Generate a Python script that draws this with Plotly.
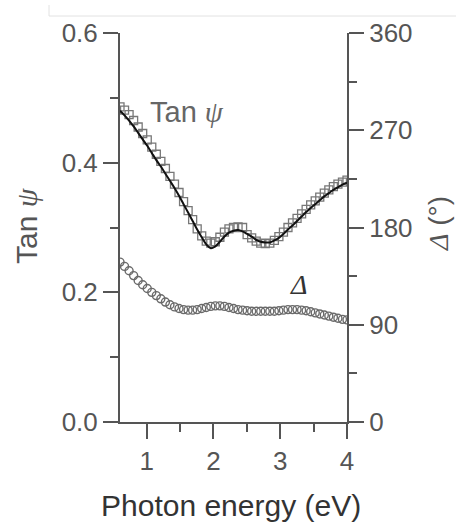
import plotly.graph_objects as go

# Photon energy grid (eV)
energy = [0.600, 0.668, 0.736, 0.804, 0.872, 0.940, 1.008, 1.076, 1.144, 1.212,
          1.280, 1.348, 1.416, 1.484, 1.552, 1.620, 1.688, 1.756, 1.824, 1.892,
          1.960, 2.028, 2.096, 2.164, 2.232, 2.300, 2.368, 2.436, 2.504, 2.572,
          2.640, 2.708, 2.776, 2.844, 2.912, 2.980, 3.048, 3.116, 3.184, 3.252,
          3.320, 3.388, 3.456, 3.524, 3.592, 3.660, 3.728, 3.796, 3.864, 3.932,
          4.000]

# Measured Tan(psi)
tanpsi_meas = [0.486, 0.481, 0.474, 0.465, 0.455, 0.445, 0.435, 0.424, 0.413, 0.402,
               0.391, 0.379, 0.367, 0.354, 0.340, 0.326, 0.312, 0.298, 0.287, 0.279,
               0.276, 0.278, 0.285, 0.293, 0.298, 0.300, 0.301, 0.300, 0.289, 0.284,
               0.279, 0.276, 0.275, 0.276, 0.280, 0.286, 0.293, 0.300, 0.307, 0.314,
               0.321, 0.328, 0.335, 0.341, 0.347, 0.353, 0.358, 0.363, 0.367, 0.370,
               0.373]

# Model fit of Tan(psi)
tanpsi_fit = [0.480, 0.473, 0.465, 0.456, 0.446, 0.436, 0.426, 0.415, 0.404, 0.394,
              0.383, 0.372, 0.361, 0.349, 0.336, 0.323, 0.310, 0.297, 0.285, 0.274,
              0.268, 0.271, 0.278, 0.286, 0.292, 0.295, 0.296, 0.294, 0.290, 0.286,
              0.281, 0.278, 0.277, 0.277, 0.280, 0.284, 0.290, 0.297, 0.303, 0.310,
              0.317, 0.324, 0.330, 0.336, 0.342, 0.348, 0.353, 0.358, 0.362, 0.366,
              0.369]

# Measured Delta (degrees)
delta_meas = [148, 144, 140, 135.5, 131, 127, 123.5, 120, 117, 114,
              111, 108.5, 106.5, 105, 104, 103.5, 103.5, 104, 105, 106,
              107, 107.5, 107.5, 107, 106, 105, 104, 103.5, 103, 102.5,
              102.5, 102.5, 102.5, 102.5, 102.5, 103, 103.5, 104, 104, 104,
              103.5, 103, 102, 101, 100, 99, 98, 97, 96, 95,
              94.5]

x_ticks = [1, 2, 3, 4]
x_minor = [1.5, 2.5, 3.5]
top_ticks = [1, 1.5, 2, 2.5, 3, 3.5]
left_ticks = [0, 0.2, 0.4, 0.6]
left_labels = ["0.0", "0.2", "0.4", "0.6"]
left_minor = [0.1, 0.3, 0.5]
right_ticks = [0, 90, 180, 270, 360]
right_minor = [45, 135, 225, 315]

AX = "#555555"
TXT = "#555555"
SANS = "Liberation Sans, Arial, sans-serif"
SERIF = "Liberation Serif, Times New Roman, serif"
PSI = "<span style='font-family:Liberation Serif'><i>ψ</i></span>"
DELTA = "<span style='font-family:Liberation Serif'><i>Δ</i></span>"

# Plot area in pixels (left, right, top, bottom)
W, H = 456, 522
PL, PR, PT, PB = 120, 347, 33, 422


def px(x, y):
    """Convert page pixel position to paper coordinates of the plot area."""
    return (x - PL) / (PR - PL), (PB - y) / (PB - PT)


fig = go.Figure()

fig.add_trace(go.Scatter(
    x=energy, y=tanpsi_meas, mode="markers",
    marker=dict(symbol="square-open", size=8, color="#777777", line=dict(width=1.3)),
    xaxis="x", yaxis="y", showlegend=False))

fig.add_trace(go.Scatter(
    x=energy, y=tanpsi_fit, mode="lines", line=dict(color="#111111", width=2, shape="spline"),
    xaxis="x", yaxis="y", showlegend=False))

fig.add_trace(go.Scatter(
    x=energy, y=delta_meas, mode="markers",
    marker=dict(symbol="circle-open", size=8, color="#6a6a6a", line=dict(width=1.4)),
    xaxis="x", yaxis="y2", showlegend=False))

axis_common = dict(showline=True, linecolor=AX, linewidth=2, tickcolor=AX, tickwidth=2,
                   showgrid=False, zeroline=False,
                   tickfont=dict(family=SANS, size=26, color=TXT))

fig.update_layout(
    width=W, height=H,
    margin=dict(l=PL, r=W - PR, t=PT, b=H - PB),
    paper_bgcolor="white", plot_bgcolor="white",
    xaxis=dict(range=[0.6, 4], tickmode="array", tickvals=x_ticks, ticks="outside", ticklen=15,
               minor=dict(tickmode="array", tickvals=x_minor, ticks="outside", ticklen=8,
                          tickwidth=2, tickcolor=AX),
               **axis_common),
    xaxis2=dict(range=[0.6, 4], overlaying="x", side="top", anchor="y", tickmode="array",
                tickvals=top_ticks, ticks="inside", ticklen=7, showticklabels=False,
                **axis_common),
    yaxis=dict(range=[0, 0.6], tickmode="array", tickvals=left_ticks, ticktext=left_labels,
               ticks="outside", ticklen=15,
               minor=dict(tickmode="array", tickvals=left_minor, ticks="outside", ticklen=8,
                          tickwidth=2, tickcolor=AX),
               **axis_common),
    yaxis2=dict(range=[0, 360], overlaying="y", side="right", anchor="x", tickmode="array",
                tickvals=right_ticks, ticks="outside", ticklen=15,
                minor=dict(tickmode="array", tickvals=right_minor, ticks="outside", ticklen=8,
                           tickwidth=2, tickcolor=AX),
                **axis_common),
)

# Series labels inside the plot
fig.add_annotation(x=1.02, y=0.478, xref="x", yref="y", xanchor="left", yanchor="middle",
                   text="Tan " + PSI, showarrow=False,
                   font=dict(family=SANS, size=29, color="#666666"))
fig.add_annotation(x=3.27, y=0.212, xref="x", yref="y", xanchor="center", yanchor="middle",
                   text="<i>Δ</i>", showarrow=False,
                   font=dict(family=SERIF, size=28, color="#333333"))

# Axis titles
tx, ty = px(26, 226)
fig.add_annotation(x=tx, y=ty, xref="paper", yref="paper",
                   xanchor="center", yanchor="middle", textangle=-90,
                   text="Tan " + PSI, showarrow=False,
                   font=dict(family=SANS, size=30, color=TXT))
tx, ty = px(438, 224)
fig.add_annotation(x=tx, y=ty, xref="paper", yref="paper",
                   xanchor="center", yanchor="middle", textangle=-90,
                   text=DELTA + " (°)", showarrow=False,
                   font=dict(family=SANS, size=28, color=TXT))
tx, ty = px(231, 505)
fig.add_annotation(x=tx, y=ty, xref="paper", yref="paper",
                   xanchor="center", yanchor="middle",
                   text="Photon energy (eV)", showarrow=False,
                   font=dict(family=SANS, size=30, color="#333333"))

# Thin frame edge along the top of the page
x0, y0 = px(49, 16)
x1, _ = px(W, 16)
_, y_top = px(49, 5)
fig.add_shape(type="line", xref="paper", yref="paper", x0=x0, x1=x1, y0=y0, y1=y0,
              line=dict(color="#e2e2e2", width=1))
fig.add_shape(type="line", xref="paper", yref="paper", x0=x0, x1=x0, y0=y_top, y1=y0,
              line=dict(color="#e2e2e2", width=1))

fig.write_html("out.html")
